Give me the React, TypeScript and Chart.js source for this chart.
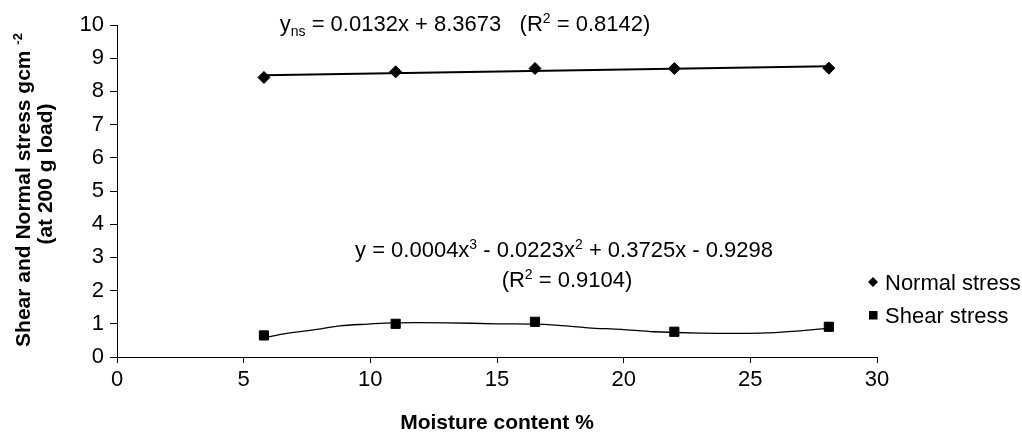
import React, { useEffect, useRef } from "react";
import { Chart, registerables } from "chart.js";

Chart.register(...registerables);

// ---------- data ----------
const moistureContent = [5.8, 11.0, 16.5, 22.0, 28.1];
const normalStress = [8.42, 8.59, 8.69, 8.69, 8.7];
const shearStress = [0.65, 1.0, 1.06, 0.76, 0.91];

// trendlines
const normalTrendX = [5.8, 28.1];
const normalTrendY = [8.49, 8.76];
const shearTrendX = [5.8, 6.7, 7.9, 8.8, 9.9, 10.9, 13.0, 15.0, 16.5, 17.3, 18.6, 19.9, 21.2, 23.0, 25.4, 26.8, 28.1];
const shearTrendY = [0.58, 0.71, 0.83, 0.94, 0.99, 1.03, 1.03, 1.0, 0.99, 0.96, 0.88, 0.83, 0.76, 0.72, 0.72, 0.78, 0.87];

const xRange = [0, 30];
const xStep = 5;
const yRange = [0, 10];
const yStep = 1;

const seriesNames = ["Normal stress", "Shear stress"];
const xTitle = "Moisture content %";
const yTitleLine1 = "Shear and Normal stress gcm ";
const yTitleSup = "-2";
const yTitleLine2 = "(at 200 g load)";

type Part = { t: string; k?: "sub" | "sup" };
const eqNormal: Part[] = [
  { t: "y" },
  { t: "ns", k: "sub" },
  { t: " = 0.0132x + 8.3673   (R" },
  { t: "2", k: "sup" },
  { t: " = 0.8142)" },
];
const eqShear1: Part[] = [
  { t: "y = 0.0004x" },
  { t: "3", k: "sup" },
  { t: " - 0.0223x" },
  { t: "2", k: "sup" },
  { t: " + 0.3725x - 0.9298" },
];
const eqShear2: Part[] = [{ t: "(R" }, { t: "2", k: "sup" }, { t: " = 0.9104)" }];

const FONT = "'Liberation Sans', Arial, Helvetica, sans-serif";

function partFont(p: Part, size: number, bold: boolean) {
  const s = p.k ? Math.round(size * 0.62) : size;
  return `${bold ? "bold " : ""}${s}px ${FONT}`;
}
function measureParts(ctx: CanvasRenderingContext2D, parts: Part[], size: number, bold: boolean) {
  let w = 0;
  for (const p of parts) {
    ctx.font = partFont(p, size, bold);
    w += ctx.measureText(p.t).width;
  }
  return w;
}
function drawParts(
  ctx: CanvasRenderingContext2D,
  parts: Part[],
  x: number,
  baseline: number,
  size: number,
  bold: boolean,
  align: "left" | "center"
) {
  const w = measureParts(ctx, parts, size, bold);
  let cx = align === "center" ? x - w / 2 : x;
  ctx.textAlign = "left";
  ctx.textBaseline = "alphabetic";
  for (const p of parts) {
    ctx.font = partFont(p, size, bold);
    const dy = p.k === "sub" ? size * 0.22 : p.k === "sup" ? -size * 0.38 : 0;
    ctx.fillText(p.t, cx, baseline + dy);
    cx += ctx.measureText(p.t).width;
  }
}

const textPlugin = {
  id: "textPlugin",
  afterDraw(chart: any) {
    const ctx: CanvasRenderingContext2D = chart.ctx;
    ctx.save();
    ctx.fillStyle = "#000";
    // equations
    drawParts(ctx, eqNormal, 465, 31, 22, false, "center");
    drawParts(ctx, eqShear1, 564, 257, 22, false, "center");
    drawParts(ctx, eqShear2, 567, 287, 22, false, "center");
    // x title
    drawParts(ctx, [{ t: xTitle }], (chart.chartArea.left + chart.chartArea.right) / 2, 429, 21, true, "center");
    // y title (rotated)
    ctx.save();
    ctx.translate(30, 190);
    ctx.rotate(-Math.PI / 2);
    drawParts(ctx, [{ t: yTitleLine1 }, { t: yTitleSup, k: "sup" }], 0, 0, 21, true, "center");
    ctx.restore();
    ctx.save();
    ctx.translate(52, 174);
    ctx.rotate(-Math.PI / 2);
    drawParts(ctx, [{ t: yTitleLine2 }], 0, 0, 21, true, "center");
    ctx.restore();
    // legend
    ctx.beginPath();
    ctx.moveTo(873, 277);
    ctx.lineTo(878, 282);
    ctx.lineTo(873, 287);
    ctx.lineTo(868, 282);
    ctx.closePath();
    ctx.fill();
    ctx.fillRect(869, 311, 8.5, 8.5);
    drawParts(ctx, [{ t: seriesNames[0] }], 885, 290, 22, false, "left");
    drawParts(ctx, [{ t: seriesNames[1] }], 885, 323, 22, false, "left");
    ctx.restore();
  },
};

export default function App() {
  const ref = useRef<HTMLCanvasElement | null>(null);
  useEffect(() => {
    if (!ref.current) return;
    const tickFont = { family: FONT, size: 22 };
    const chart = new Chart(ref.current, {
      type: "scatter",
      data: {
        datasets: [
          {
            label: seriesNames[0],
            data: moistureContent.map((x, i) => ({ x, y: normalStress[i] })),
            pointStyle: "rectRot",
            pointRadius: 6,
            backgroundColor: "#000",
            borderColor: "#000",
            borderWidth: 1,
            showLine: false,
          },
          {
            label: seriesNames[1],
            data: moistureContent.map((x, i) => ({ x, y: shearStress[i] })),
            pointStyle: "rect",
            pointRadius: 6.5,
            backgroundColor: "#000",
            borderColor: "#000",
            borderWidth: 1,
            showLine: false,
          },
          {
            label: "normal trend",
            data: normalTrendX.map((x, i) => ({ x, y: normalTrendY[i] })),
            showLine: true,
            pointRadius: 0,
            borderColor: "#000",
            borderWidth: 2,
          },
          {
            label: "shear trend",
            data: shearTrendX.map((x, i) => ({ x, y: shearTrendY[i] })),
            showLine: true,
            pointRadius: 0,
            borderColor: "#000",
            borderWidth: 1.3,
            tension: 0.3,
          },
        ],
      },
      options: {
        animation: false,
        responsive: false,
        maintainAspectRatio: false,
        layout: { padding: { top: 25, right: 145, left: 0, bottom: 0 } },
        plugins: { legend: { display: false }, tooltip: { enabled: false } },
        scales: {
          x: {
            type: "linear",
            min: xRange[0],
            max: xRange[1],
            ticks: { stepSize: xStep, color: "#000", font: tickFont, padding: 4 },
            grid: { drawOnChartArea: false, drawTicks: true, tickLength: 6, color: "#000", lineWidth: 1 },
            border: { display: true, color: "#000", width: 1 },
            afterFit: (s: any) => {
              s.height = 80;
            },
          },
          y: {
            min: yRange[0],
            max: yRange[1],
            ticks: { stepSize: yStep, color: "#000", font: tickFont, padding: 6 },
            grid: { drawOnChartArea: false, drawTicks: true, tickLength: 7, color: "#000", lineWidth: 1 },
            border: { display: true, color: "#000", width: 1 },
            afterFit: (s: any) => {
              s.width = 117;
            },
          },
        },
      },
      plugins: [textPlugin],
    });
    return () => chart.destroy();
  }, []);
  return (
    <div style={{ position: "fixed", left: 0, top: 0, width: 1022, height: 437, background: "#fff" }}>
      <canvas ref={ref} width={1022} height={437} style={{ display: "block" }} />
    </div>
  );
}
